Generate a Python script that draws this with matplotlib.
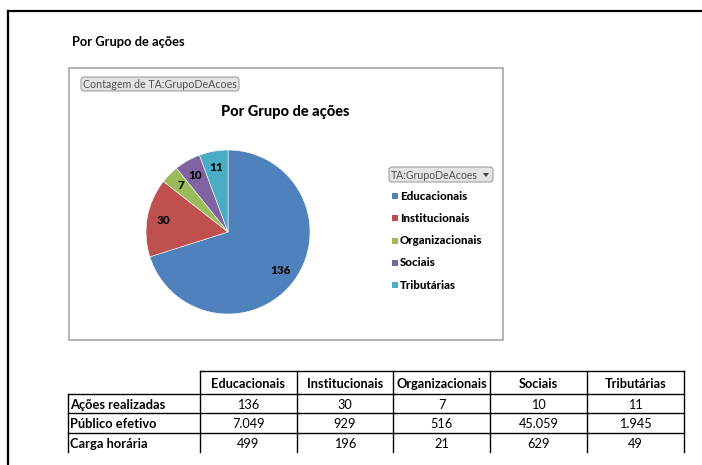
import matplotlib.pyplot as plt
from matplotlib.patches import Rectangle, FancyBboxPatch, Polygon
from matplotlib.lines import Line2D

# data
grupos = ['Educacionais', 'Institucionais', 'Organizacionais', 'Sociais', 'Tributárias']
acoes = [136, 30, 7, 10, 11]
publico = ['7.049', '929', '516', '45.059', '1.945']
carga = ['499', '196', '21', '629', '49']
linhas = ['Ações realizadas', 'Público efetivo', 'Carga horária']
cores = ['#4F81BD', '#C0504D', '#9BBB59', '#8064A2', '#4BACC6']

plt.rcParams['font.family'] = ['Lato', 'DejaVu Sans']

W, H = 702, 465
fig = plt.figure(figsize=(W / 100, H / 100), dpi=100)
bg = fig.add_axes([0, 0, 1, 1])
bg.set_xlim(0, W)
bg.set_ylim(H, 0)
bg.axis('off')

# page border
bg.add_line(Line2D([8, W], [11, 11], color='black', lw=1.6))
bg.add_line(Line2D([8, 8], [11, H], color='black', lw=1.6))

bg.text(72, 42, 'Por Grupo de ações', fontsize=9.3, fontweight='bold', va='center', ha='left')

# chart box
bg.add_patch(Rectangle((69, 68), 434, 272, fill=False, ec='#a6a6a6', lw=1.2))
bg.add_patch(FancyBboxPatch((81, 77), 158, 14, boxstyle='round,pad=0,rounding_size=3',
                            fc='#e4e4e4', ec='#a0a0a0', lw=0.8))
bg.text(160, 84.5, 'Contagem de TA:GrupoDeAcoes', fontsize=7.7, color='#505050', ha='center', va='center')
bg.text(285, 112, 'Por Grupo de ações', fontsize=10.5, fontweight='black', ha='center', va='center')

# pie
cx, cy, r = 228, 232, 82
pax = fig.add_axes([(cx - r) / W, 1 - (cy + r) / H, 2 * r / W, 2 * r / H])
wedges, txts, auto = pax.pie(acoes, colors=cores, startangle=90, counterclock=False,
                             autopct=lambda p: '{:.0f}'.format(p * sum(acoes) / 100),
                             pctdistance=0.8, wedgeprops=dict(ec='white', lw=0.4),
                             textprops=dict(fontsize=8.5, fontweight='black'))
pax.set_xlim(-1, 1)
pax.set_ylim(-1, 1)

# legend
bg.add_patch(FancyBboxPatch((389, 167), 104, 15, boxstyle='round,pad=0,rounding_size=3',
                            fc='#e4e4e4', ec='#a0a0a0', lw=0.8))
bg.text(391, 175, 'TA:GrupoDeAcoes', fontsize=7.6, color='#505050', ha='left', va='center')
bg.add_patch(Polygon([[483, 173], [489, 173], [486, 177]], closed=True, fc='#404040', ec='none'))
for i, (g, c) in enumerate(zip(grupos, cores)):
    y = 196 + i * 22.3
    bg.add_patch(Rectangle((392, y - 3), 6, 6, fc=c, ec='none'))
    bg.text(400, y, g, fontsize=8.3, fontweight='black', ha='left', va='center')

# table
cols = [200, 297, 393, 490, 587, 684]
rows = [371, 394, 413, 433, 452]
bg.add_line(Line2D([200, 684], [rows[0]] * 2, color='black', lw=1))
for yy in rows[1:4]:
    bg.add_line(Line2D([68, 684], [yy, yy], color='black', lw=1))
bg.add_line(Line2D([68, 68], [rows[1], rows[4]], color='black', lw=1))
for xx in cols:
    bg.add_line(Line2D([xx, xx], [rows[0], rows[4]], color='black', lw=1))

for j, g in enumerate(grupos):
    bg.text((cols[j] + cols[j + 1]) / 2, (rows[0] + rows[1]) / 2 + 1, g, fontsize=9.2,
            fontweight='bold', ha='center', va='center')
valores = [[str(a) for a in acoes], publico, carga]
for i, nome in enumerate(linhas):
    ym = (rows[i + 1] + rows[i + 2]) / 2 + 1
    bg.text(70, ym, nome, fontsize=9.3, fontweight='bold', ha='left', va='center')
    for j, v in enumerate(valores[i]):
        bg.text((cols[j] + cols[j + 1]) / 2, ym, v, fontsize=9.2, ha='center', va='center')

fig.savefig('out.png', dpi=100)
